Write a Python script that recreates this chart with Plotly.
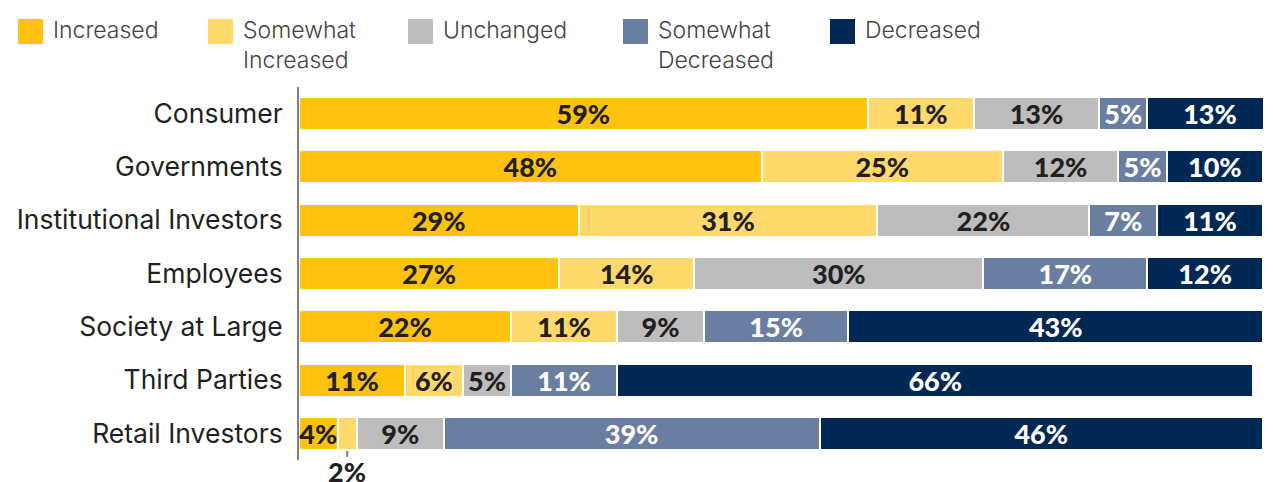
import plotly.graph_objects as go

categories = ["Consumer", "Governments", "Institutional Investors", "Employees",
              "Society at Large", "Third Parties", "Retail Investors"]
series_names = ["Increased", "Somewhat<br>Increased", "Unchanged", "Somewhat<br>Decreased", "Decreased"]
increased = [59, 48, 29, 27, 22, 11, 4]
somewhat_increased = [11, 25, 31, 14, 11, 6, 2]
unchanged = [13, 12, 22, 30, 9, 5, 9]
somewhat_decreased = [5, 5, 7, 17, 15, 11, 39]
decreased = [13, 10, 11, 12, 43, 66, 46]

series_values = [increased, somewhat_increased, unchanged, somewhat_decreased, decreased]
colors = ["#FFC20E", "#FFD96B", "#BDBDBD", "#6A7EA1", "#002855"]
text_colors = ["#231F20", "#231F20", "#231F20", "#FFFFFF", "#FFFFFF"]

W, H = 1273, 482
ML, MR, MT, MB = 299, 10, 87, 22
PW, PH = W - ML - MR, H - MT - MB

def px2x(px):
    return (px - ML) / PW

def py2y(py):
    return (H - MB - py) / PH

LABEL_FONT = dict(family="Lato", size=27, weight=900)

fig = go.Figure()
for name, vals, col, tcol in zip(series_names, series_values, colors, text_colors):
    labels = [f"{v}%" if not (name.startswith("Somewhat<br>I") and c == "Retail Investors") else ""
              for v, c in zip(vals, categories)]
    fig.add_trace(go.Bar(
        y=categories, x=vals, orientation="h", name=name.replace("<br>", " "),
        marker=dict(color=col, line=dict(color="white", width=2)),
        text=labels, textposition="inside", insidetextanchor="middle",
        textangle=0, constraintext="none",
        textfont=dict(color=tcol, **LABEL_FONT),
        width=0.62, showlegend=False, hoverinfo="skip",
    ))

# Leader label for the small Retail Investors "Somewhat Increased" segment
ri = categories.index("Retail Investors")
lead_x = increased[ri] + somewhat_increased[ri] / 2
fig.add_shape(type="line", x0=lead_x, x1=lead_x, y0=ri + 0.33, y1=ri + 0.44,
              xref="x", yref="y", line=dict(color="#7F7F7F", width=2))
fig.add_annotation(x=lead_x, y=ri + 0.5, xref="x", yref="y", text=f"{somewhat_increased[ri]}%",
                   showarrow=False, yanchor="top", xanchor="center", yshift=7,
                   font=dict(color="#231F20", **LABEL_FONT))

# Custom legend
legend_px = [18, 208, 408, 623, 830]
for lx, name, col in zip(legend_px, series_names, colors):
    fig.add_shape(type="rect", xref="paper", yref="paper",
                  x0=px2x(lx), x1=px2x(lx + 25), y0=py2y(44), y1=py2y(19),
                  fillcolor=col, line=dict(width=0))
    fig.add_annotation(xref="paper", yref="paper", x=px2x(lx + 33), y=py2y(14),
                       text=name, showarrow=False, xanchor="left", yanchor="top", align="left",
                       font=dict(family="Inter", size=23, color="#444444", weight=300))

fig.update_layout(
    barmode="stack", width=W, height=H,
    margin=dict(l=ML, r=MR, t=MT, b=MB),
    plot_bgcolor="white", paper_bgcolor="white",
    xaxis=dict(range=[0, 100], visible=False, fixedrange=True),
    yaxis=dict(categoryorder="array", categoryarray=categories,
               range=[len(categories) - 0.5, -0.5],
               showline=True, linecolor="#7F7F7F", linewidth=2, ticks="",
               showgrid=False, ticklabelstandoff=9, fixedrange=True,
               tickfont=dict(family="Inter", size=26.5, color="#231F20")),
    font=dict(family="Inter"),
)

fig.write_html("out.html", config={"displayModeBar": False},
               post_script="document.body.style.margin='0';")
